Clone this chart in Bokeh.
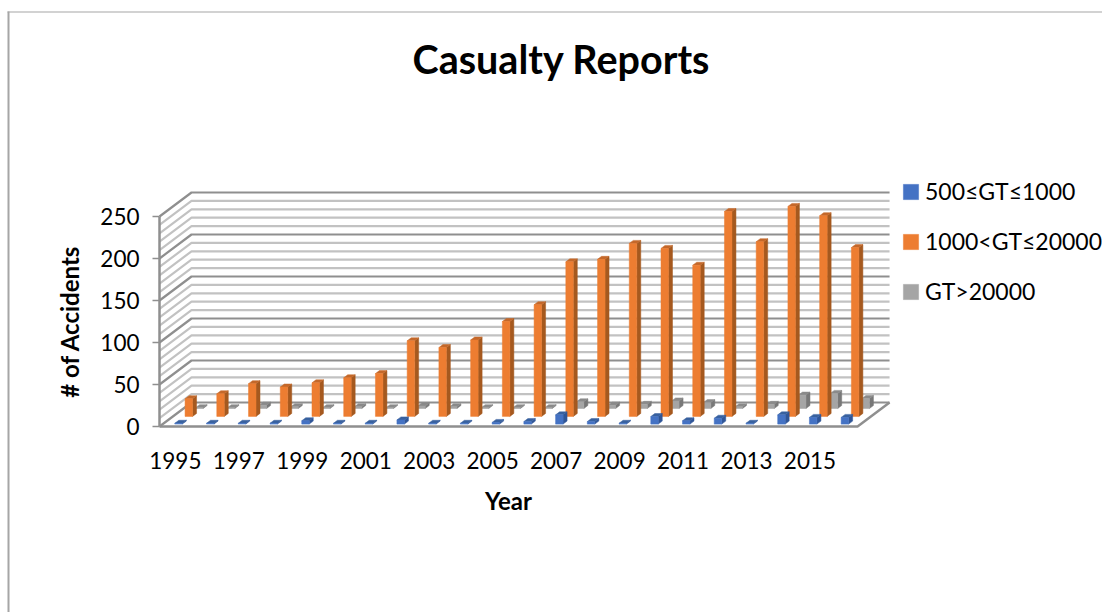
from bokeh.embed import file_html
from bokeh.models import (BoxAnnotation, FixedTicker, Label, Legend, LegendItem, Range1d)
from bokeh.plotting import figure
from bokeh.resources import INLINE
import numpy as np

years = list(range(1995, 2017))
small_vessels = [1, 1, 1, 1, 4, 1, 1, 5, 1, 1, 2, 3, 11, 3, 1, 9, 4, 7, 1, 11, 8, 8]
medium_vessels = [21, 27, 39, 35, 40, 46, 51, 90, 82, 91, 113, 133, 184, 187, 206, 200, 180, 244, 208, 250, 239, 201]
large_vessels = [1, 1, 4, 2, 1, 2, 1, 3, 2, 1, 1, 1, 8, 4, 5, 9, 7, 2, 5, 16, 18, 12]
series_names = ["500≤GT≤1000", "1000<GT≤20000", "GT>20000"]
y_ticks = [0, 50, 100, 150, 200, 250]
x_tick_years = list(range(1995, 2016, 2))

FONT = "Lato"
WIDTH, HEIGHT = 1102, 612
PX_PER_YEAR = 31.73
PX_PER_ACCIDENT = 0.84
ORIGIN_X, ORIGIN_Y = 159, 426

# Oblique projection: depth 1 moves a point to the back wall of the box.
DEPTH_X = 32 / PX_PER_YEAR
DEPTH_Y = 24 / PX_PER_ACCIDENT
BOX_START = 1994.5
BOX_END = 2016.5
WALL_TOP = 250

# The frame fills the whole canvas, so axes are pinned inside it.
x_start = BOX_START - ORIGIN_X / PX_PER_YEAR
y_end = ORIGIN_Y / PX_PER_ACCIDENT
p = figure(
    width=WIDTH, height=HEIGHT, output_backend="svg", toolbar_location=None,
    min_border=0,
    x_range=Range1d(x_start, x_start + WIDTH / PX_PER_YEAR),
    y_range=Range1d(y_end - HEIGHT / PX_PER_ACCIDENT, y_end),
)
p.outline_line_color = None
p.grid.visible = False
p.background_fill_color = "white"

# Chart frame: thin rule along the top, heavier rule down the left.
frame_color = "#a6a6a6"
for box in (dict(left=7, right=WIDTH, top=HEIGHT - 11, bottom=HEIGHT - 12),
            dict(left=7, right=9, top=HEIGHT - 11, bottom=0)):
    p.add_layout(BoxAnnotation(left_units="screen", right_units="screen", top_units="screen",
                               bottom_units="screen", fill_color=frame_color, fill_alpha=1,
                               line_color=None, level="underlay", **box))

# Wall gridlines on the side and back faces, every 10 accidents.
minor = [v for v in range(0, WALL_TOP + 1, 10) if v % 50]
for levels, color in ((minor, "#c2c2c2"), (y_ticks, "#8f8f8f")):
    xs, ys = [], []
    for v in levels:
        xs.append([BOX_START, BOX_START + DEPTH_X, BOX_END + DEPTH_X])
        ys.append([v, v + DEPTH_Y, v + DEPTH_Y])
    p.multi_line(xs, ys, line_color=color, line_width=2.2)

# Floor outline.
p.line([BOX_START, BOX_END, BOX_END + DEPTH_X], [0, 0, DEPTH_Y], line_color="#8f8f8f", line_width=2.5)


def draw_bars(values, depth, front, side, top):
    half = 0.118
    bar_depth = 0.125
    v = np.array(values, dtype=float)
    cx = np.array(years, dtype=float) + depth * DEPTH_X
    base = np.full(len(v), depth * DEPTH_Y)
    ddx, ddy = bar_depth * DEPTH_X, bar_depth * DEPTH_Y
    left, right = cx - half, cx + half
    upper = base + v
    side_x = [[r, r + ddx, r + ddx, r] for r in right]
    side_y = [[b, b + ddy, u + ddy, u] for b, u in zip(base, upper)]
    top_x = [[l, r, r + ddx, l + ddx] for l, r in zip(left, right)]
    top_y = [[u, u, u + ddy, u + ddy] for u in upper]
    p.patches(side_x, side_y, fill_color=side, line_color=side, line_width=0.5)
    p.patches(top_x, top_y, fill_color=top, line_color=top, line_width=0.5)
    return p.quad(left=left, right=right, bottom=base, top=upper,
                  fill_color=front, line_color=front, line_width=0.5)


r_large = draw_bars(large_vessels, 0.75, "#a5a5a5", "#787878", "#8a8a8a")
r_medium = draw_bars(medium_vessels, 0.42, "#ed7d31", "#a5591f", "#c4682a")
r_small = draw_bars(small_vessels, 0.10, "#4472c4", "#2f5597", "#38619f")

# Value axis on the front-left edge.
ya = p.yaxis[0]
ya.fixed_location = BOX_START
ya.bounds = (0, 250)
ya.ticker = FixedTicker(ticks=y_ticks)
ya.axis_label = "# of Accidents"
ya.axis_label_text_font = FONT
ya.axis_label_text_font_style = "bold"
ya.axis_label_text_font_size = "24px"
ya.axis_label_text_color = "black"
ya.axis_label_standoff = 13
ya.major_label_text_font = FONT
ya.major_label_text_font_size = "22.5px"
ya.major_label_text_color = "black"
ya.major_label_standoff = 13
ya.axis_line_color = "#8f8f8f"
ya.axis_line_width = 2.5
ya.major_tick_line_color = "#8f8f8f"
ya.major_tick_line_width = 1.5
ya.major_tick_in = 0
ya.major_tick_out = 7
ya.minor_tick_line_color = None

# Year axis; its bounds keep the title centred under the box.
xa = p.xaxis[0]
xa.fixed_location = 0
xa.bounds = (BOX_START, BOX_END)
xa.ticker = FixedTicker(ticks=x_tick_years)
xa.axis_label = "Year"
xa.axis_label_text_font = FONT
xa.axis_label_text_font_style = "bold"
xa.axis_label_text_font_size = "24px"
xa.axis_label_text_color = "black"
xa.axis_label_standoff = 14
xa.major_label_text_font = FONT
xa.major_label_text_font_size = "22.5px"
xa.major_label_text_color = "black"
xa.major_label_standoff = 19
xa.axis_line_color = None
xa.major_tick_line_color = None
xa.minor_tick_line_color = None

# Title, centred over the chart area.
p.add_layout(Label(x=561, y=HEIGHT - 58, x_units="screen", y_units="screen", text="Casualty Reports",
                   text_align="center", text_baseline="middle", text_font=FONT, text_font_size="39.5px",
                   text_font_style="bold", text_color="black"))

# Legend to the right of the box.
legend = Legend(
    items=[LegendItem(label=series_names[0], renderers=[r_small]),
           LegendItem(label=series_names[1], renderers=[r_medium]),
           LegendItem(label=series_names[2], renderers=[r_large])],
    location=(901, HEIGHT - 305), margin=0, padding=0, spacing=22,
    glyph_width=19, glyph_height=19, label_standoff=5, label_height=19,
    label_text_font=FONT, label_text_font_size="23px", label_text_color="black",
    border_line_color=None, background_fill_alpha=0,
)
p.add_layout(legend, "center")

open("out.html", "w").write(file_html(p, INLINE))
